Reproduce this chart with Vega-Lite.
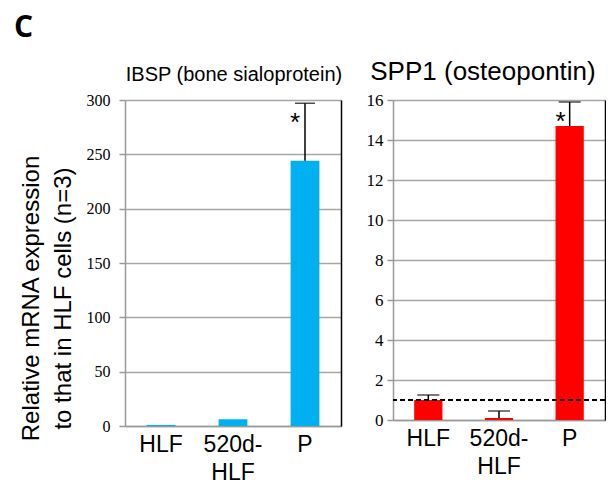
{
  "$schema": "https://vega.github.io/schema/vega-lite/v6.json",
  "padding": {"left": 14, "top": 13, "right": 0, "bottom": 0},
  "title": {"text": "C", "anchor": "start", "frame": "bounds", "fontSize": 30, "font": "Open Sans", "fontWeight": "bold", "color": "black", "dx": -5, "offset": 16},
  "config": {
    "view": {"stroke": null},
    "axis": {"labelColor": "black", "titleColor": "black"},
    "title": {"font": "Liberation Sans", "fontWeight": "normal", "color": "black"}
  },
  "spacing": 23,
  "hconcat": [
    {
      "width": 216,
      "height": 326,
      "title": {"text": "IBSP (bone sialoprotein)", "fontSize": 20, "offset": 7, "dx": 1},
      "data": {"values": [
        {"gene": "HLF", "value": 1, "upper": null, "star": ""},
        {"gene": "520d-HLF", "value": 6.2, "upper": null, "star": ""},
        {"gene": "P", "value": 244, "upper": 297, "star": "*"}
      ]},
      "resolve": {"axis": {"y": "independent"}},
      "layer": [
        {
          "mark": {"type": "bar", "color": "#00B0F0"},
          "encoding": {
            "x": {"field": "gene", "type": "nominal", "sort": ["HLF", "520d-HLF", "P"],
              "scale": {"paddingInner": 0.6, "paddingOuter": 0.3},
              "axis": {"title": null, "ticks": false, "labelAngle": 0, "labelFont": "Liberation Sans", "labelFontSize": 23, "labelPadding": 7, "labelLineHeight": 28, "domainColor": "#999999", "domainWidth": 1.5,
                "labelExpr": "datum.label == '520d-HLF' ? ['520d-', 'HLF'] : datum.label"}},
            "y": {"field": "value", "type": "quantitative", "scale": {"domain": [0, 300], "nice": false},
              "axis": {"values": [0, 50, 100, 150, 200, 250, 300], "title": ["Relative mRNA expression", "to that in HLF cells (n=3)"],
                "titleFont": "Liberation Sans", "titleFontSize": 24, "titleFontWeight": "normal", "titleLineHeight": 32, "titleY": 198, "titlePadding": 11,
                "labelFont": "Liberation Serif", "labelFontSize": 16, "labelPadding": 9, "tickSize": 6, "tickColor": "#999999", "tickWidth": 1.5,
                "domainColor": "#999999", "domainWidth": 1.5, "gridColor": "#a6a6a6", "gridWidth": 1.5}}
          }
        },
        {
          "transform": [{"filter": "datum.upper != null"}],
          "mark": {"type": "rule", "color": "black", "strokeWidth": 1.5},
          "encoding": {
            "x": {"field": "gene", "type": "nominal", "sort": ["HLF", "520d-HLF", "P"]},
            "y": {"field": "value", "type": "quantitative", "axis": null},
            "y2": {"field": "upper"}
          }
        },
        {
          "transform": [{"filter": "datum.upper != null"}],
          "mark": {"type": "tick", "color": "black", "thickness": 1.5, "size": 20},
          "encoding": {
            "x": {"field": "gene", "type": "nominal", "sort": ["HLF", "520d-HLF", "P"]},
            "y": {"field": "upper", "type": "quantitative",
              "axis": {"orient": "right", "labels": false, "ticks": false, "grid": false, "title": null, "domainColor": "black", "domainWidth": 1.5}}
          }
        },
        {
          "transform": [{"filter": "datum.upper != null"}],
          "mark": {"type": "text", "fontSize": 26, "font": "Liberation Sans", "color": "black", "dx": -10, "dy": 20, "baseline": "middle"},
          "encoding": {
            "x": {"field": "gene", "type": "nominal", "sort": ["HLF", "520d-HLF", "P"]},
            "y": {"field": "upper", "type": "quantitative", "axis": null},
            "text": {"field": "star"}
          }
        }
      ]
    },
    {
      "width": 212,
      "height": 320,
      "title": {"text": "SPP1 (osteopontin)", "fontSize": 26, "offset": 6, "dx": -16},
      "data": {"values": [
        {"gene": "HLF", "value": 1.0, "upper": 1.25, "star": ""},
        {"gene": "520d-HLF", "value": 0.1, "upper": 0.45, "star": ""},
        {"gene": "P", "value": 14.7, "upper": 15.9, "star": "*"}
      ]},
      "resolve": {"axis": {"y": "independent"}},
      "layer": [
        {
          "mark": {"type": "bar", "color": "#FF0000"},
          "encoding": {
            "x": {"field": "gene", "type": "nominal", "sort": ["HLF", "520d-HLF", "P"],
              "scale": {"paddingInner": 0.6, "paddingOuter": 0.3},
              "axis": {"title": null, "ticks": false, "labelAngle": 0, "labelFont": "Liberation Sans", "labelFontSize": 23, "labelPadding": 7, "labelLineHeight": 28, "domainColor": "#999999", "domainWidth": 1.5,
                "labelExpr": "datum.label == '520d-HLF' ? ['520d-', 'HLF'] : datum.label"}},
            "y": {"field": "value", "type": "quantitative", "scale": {"domain": [0, 16], "nice": false},
              "axis": {"values": [0, 2, 4, 6, 8, 10, 12, 14, 16], "title": null,
                "labelFont": "Liberation Serif", "labelFontSize": 17, "labelPadding": 4, "tickSize": 6, "tickColor": "#999999", "tickWidth": 1.5,
                "domainColor": "#999999", "domainWidth": 1.5, "gridColor": "#a6a6a6", "gridWidth": 1.5}}
          }
        },
        {
          "mark": {"type": "rule", "color": "black", "strokeWidth": 1.3, "strokeDash": [5, 3]},
          "encoding": {"y": {"datum": 1, "type": "quantitative", "axis": null}}
        },
        {
          "transform": [{"filter": "datum.upper != null"}],
          "mark": {"type": "rule", "color": "black", "strokeWidth": 1.5},
          "encoding": {
            "x": {"field": "gene", "type": "nominal", "sort": ["HLF", "520d-HLF", "P"]},
            "y": {"field": "value", "type": "quantitative", "axis": null},
            "y2": {"field": "upper"}
          }
        },
        {
          "transform": [{"filter": "datum.upper != null"}],
          "mark": {"type": "tick", "color": "black", "thickness": 1.5, "size": 22},
          "encoding": {
            "x": {"field": "gene", "type": "nominal", "sort": ["HLF", "520d-HLF", "P"]},
            "y": {"field": "upper", "type": "quantitative",
              "axis": {"orient": "right", "labels": false, "ticks": false, "grid": false, "title": null, "domainColor": "black", "domainWidth": 1.5}}
          }
        },
        {
          "transform": [{"filter": "datum.star == '*'"}],
          "mark": {"type": "text", "fontSize": 26, "font": "Liberation Sans", "color": "black", "dx": -9, "dy": 20, "baseline": "middle"},
          "encoding": {
            "x": {"field": "gene", "type": "nominal", "sort": ["HLF", "520d-HLF", "P"]},
            "y": {"field": "upper", "type": "quantitative", "axis": null},
            "text": {"field": "star"}
          }
        }
      ]
    }
  ]
}
